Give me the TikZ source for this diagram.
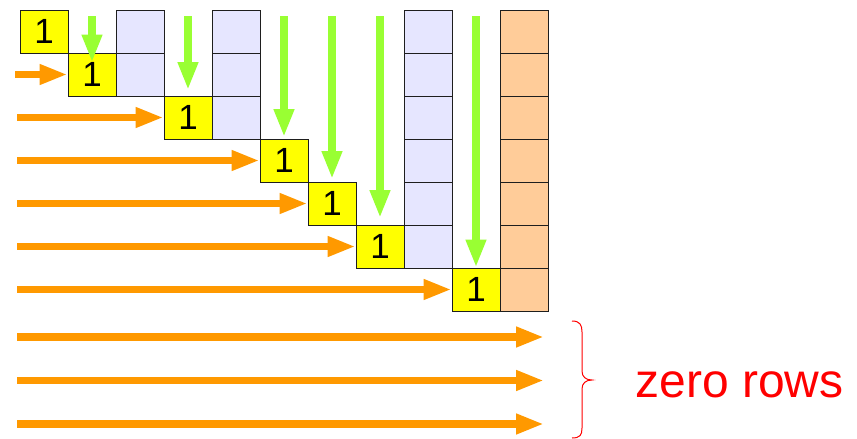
\documentclass[tikz,border=0pt]{standalone}
\usepackage{fontspec}
\setmainfont{Liberation Sans}
\usetikzlibrary{arrows.meta}
\definecolor{cellyellow}{RGB}{255,255,0}
\definecolor{lavender}{RGB}{230,230,255}
\definecolor{peach}{RGB}{255,204,153}
\definecolor{arrgreen}{RGB}{153,255,51}
\definecolor{arrorange}{RGB}{255,153,0}
\definecolor{gridline}{RGB}{30,30,30}
\definecolor{zerored}{RGB}{255,0,0}

\begin{document}
\begin{tikzpicture}[x=1pt,y=-1pt,
  cell/.style={draw=gridline, line width=0.9pt, minimum width=48pt,
    minimum height=43pt, inner sep=0pt, font=\fontsize{35}{35}\selectfont},
  one/.style={cell, fill=cellyellow},
  lav/.style={cell, fill=lavender},
  pch/.style={cell, fill=peach},
  rowarrow/.style={draw=arrorange, line width=7.5pt,
    -{Triangle[length=28pt,width=19pt]}},
  colarrow/.style={draw=arrgreen, line width=8pt,
    -{Triangle[length=28pt,width=19pt]}},
]
\useasboundingbox (0,0) rectangle (857,439);

% shaded columns (cell centre: x = 44 + 48c, y = 31.5 + 43r)
\foreach \r in {0,1} \node[lav] (l2-\r) at (140,31.5+43*\r) {};
\foreach \r in {0,...,2} \node[lav] (l4-\r) at (236,31.5+43*\r) {};
\foreach \r in {0,...,5} \node[lav] (l8-\r) at (428,31.5+43*\r) {};
\foreach \r in {0,...,6} \node[pch] (r10-\r) at (524,31.5+43*\r) {};

% pivot cells
\node[one] (p0) at (44,31.5) {1};
\node[one] (p1) at (92,74.5) {1};
\node[one] (p2) at (188,117.5) {1};
\node[one] (p3) at (284,160.5) {1};
\node[one] (p4) at (332,203.5) {1};
\node[one] (p5) at (380,246.5) {1};
\node[one] (p6) at (476,289.5) {1};

% row arrows into the pivots
\coordinate (o1) at (15,74.5);
\coordinate (o2) at (17,117.5);
\coordinate (o3) at (17,160.5);
\coordinate (o4) at (17,203.5);
\coordinate (o5) at (17,246.5);
\coordinate (o6) at (17,289.5);
\draw[rowarrow] (o1) -- (p1.west);
\draw[rowarrow] (o2) -- (p2.west);
\draw[rowarrow] (o3) -- (p3.west);
\draw[rowarrow] (o4) -- (p4.west);
\draw[rowarrow] (o5) -- (p5.west);
\draw[rowarrow] (o6) -- (p6.west);

% zero rows
\coordinate (z1a) at (17,337);   \coordinate (z1b) at (544,337);
\coordinate (z2a) at (17,380.5); \coordinate (z2b) at (544,380.5);
\coordinate (z3a) at (17,424);   \coordinate (z3b) at (544,424);
\draw[rowarrow] (z1a) -- (z1b);
\draw[rowarrow] (z2a) -- (z2b);
\draw[rowarrow] (z3a) -- (z3b);

% column arrows down to the pivots
\coordinate (g1) at (92,16);
\coordinate (g3) at (188,16);
\coordinate (g5) at (284,16);
\coordinate (g6) at (332,16);
\coordinate (g7) at (380,16);
\coordinate (g9) at (476,16);
\draw[colarrow] (g1) -- ([yshift=-10pt]p1.north);
\draw[colarrow] (g3) -- ([yshift=5.5pt]p2.north);
\draw[colarrow] (g5) -- ([yshift=1.5pt]p3.north);
\draw[colarrow] (g6) -- ([yshift=2.5pt]p4.north);
\draw[colarrow] (g7) -- ([yshift=6.5pt]p5.north);
\draw[colarrow] (g9) -- (p6.north);

% brace and label
\draw[zerored, line width=1pt]
  (572,321) .. controls (580,321) and (582,325) .. (582,332)
  -- (582,371) .. controls (582,377) and (586,380) .. (592,380)
  .. controls (586,380) and (582,383) .. (582,389)
  -- (582,428) .. controls (582,435) and (580,438) .. (572,438);
\node[text=zerored, anchor=base, inner sep=0pt,
  font=\fontsize{48}{48}\selectfont] (zr) at (739.5,397) {zero rows};
\end{tikzpicture}
\end{document}
